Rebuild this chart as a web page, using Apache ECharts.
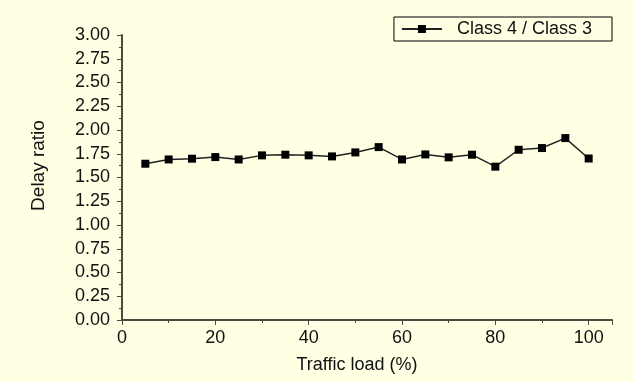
<!DOCTYPE html>
<html>
<head>
<meta charset="utf-8">
<script src="https://cdn.jsdelivr.net/npm/echarts@6/dist/echarts.min.js"></script>
<style>
    html, body { margin: 0; padding: 0; background: #ffffe3; }
    #chart { width: 633px; height: 382px; }
</style>
</head>
<body>
<div id="chart"></div>
<script>
    // 数据
    var trafficLoad = [5, 10, 15, 20, 25, 30, 35, 40, 45, 50, 55, 60, 65, 70, 75, 80, 85, 90, 95, 100];
    var delayRatio = [1.645, 1.69, 1.698, 1.715, 1.69, 1.733, 1.74, 1.733, 1.722, 1.764,
        1.82, 1.69, 1.743, 1.712, 1.74, 1.614, 1.792, 1.81, 1.915, 1.70];
    var seriesName = 'Class 4 / Class 3';

    var chartData = [];
    for (var i = 0; i < trafficLoad.length; i++) {
        chartData.push([trafficLoad[i], delayRatio[i]]);
    }

    var axisColor = '#4a4a40';
    var fontFamily = '"Liberation Sans", Arial, sans-serif';

    var option = {
        animation: false,
        backgroundColor: '#ffffe3',
        textStyle: { fontFamily: fontFamily },
        grid: { left: 122, right: 21, top: 35, bottom: 62 },
        legend: {
            right: 21,
            top: 17,
            itemWidth: 40,
            itemHeight: 10,
            itemGap: 0,
            padding: [3, 20, 3, 7],
            borderColor: '#000',
            borderWidth: 1,
            backgroundColor: '#ffffe3',
            textStyle: { fontSize: 18, color: '#111', fontFamily: fontFamily, padding: [0, 0, 0, 10] },
            data: [seriesName]
        },
        xAxis: {
            type: 'value',
            min: 0,
            max: 105,
            interval: 20,
            name: 'Traffic load (%)',
            nameLocation: 'middle',
            nameGap: 36,
            nameTextStyle: { fontSize: 18, color: '#111', padding: [0, 20, 0, 0] },
            splitLine: { show: false },
            axisLine: { lineStyle: { color: axisColor, width: 2 } },
            axisTick: { length: 5, lineStyle: { color: axisColor } },
            minorTick: { show: true, splitNumber: 2, length: 3, lineStyle: { color: axisColor } },
            axisLabel: {
                fontSize: 18, color: '#111', margin: 9,
                showMaxLabel: false
            }
        },
        yAxis: {
            type: 'value',
            min: 0,
            max: 3,
            interval: 0.25,
            name: 'Delay ratio',
            nameLocation: 'middle',
            nameGap: 74,
            nameTextStyle: { fontSize: 19, color: '#111', padding: [0, 0, 0, 24] },
            splitLine: { show: false },
            axisLine: { show: true, lineStyle: { color: axisColor, width: 2 } },
            axisTick: { show: true, length: 5, lineStyle: { color: axisColor } },
            minorTick: { show: true, splitNumber: 2, length: 3, lineStyle: { color: axisColor } },
            axisLabel: {
                fontSize: 18, color: '#111', margin: 12,
                formatter: function (v) { return v.toFixed(2); }
            }
        },
        series: [{
            name: seriesName,
            type: 'line',
            symbol: 'rect',
            symbolSize: 8,
            itemStyle: { color: '#000' },
            lineStyle: { color: '#222', width: 1.5 },
            data: chartData
        }]
    };

    var chart = echarts.init(document.getElementById('chart'));
    chart.setOption(option);
</script>
</body>
</html>
